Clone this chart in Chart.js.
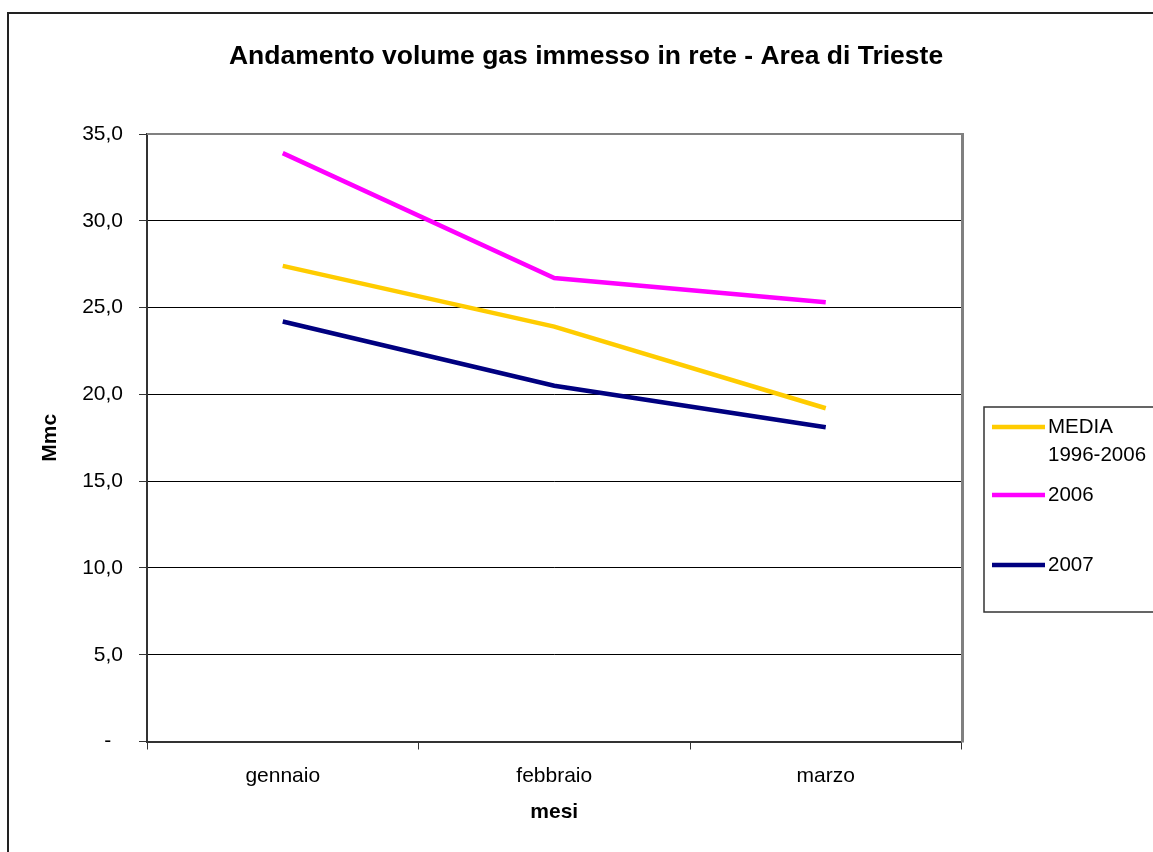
<!DOCTYPE html>
<html>
<head>
<meta charset="utf-8">
<script src="https://cdn.jsdelivr.net/npm/chart.js@4/dist/chart.umd.min.js"></script>
<style>
  html, body { margin: 0; padding: 0; background: #ffffff; }
  #wrap { width: 1153px; height: 852px; position: relative; }
</style>
</head>
<body>
<div id="wrap"><canvas id="c" width="1153" height="852"></canvas></div>
<script>
// ---- data ----
const categories = ['gennaio', 'febbraio', 'marzo'];
const media = [27.4, 23.9, 19.2];
const y2006 = [33.9, 26.7, 25.3];
const y2007 = [24.2, 20.5, 18.1];
const seriesLabels = [['MEDIA', '1996-2006'], ['2006'], ['2007']];
const seriesColors = ['#FFCC00', '#FF00FF', '#000080'];
const yTicks = [0, 5, 10, 15, 20, 25, 30, 35];

const FONT = "'Liberation Sans', Arial, sans-serif";

const frame = {
  id: 'frame',
  beforeDraw(chart) {
    const ctx = chart.ctx;
    ctx.save();
    ctx.fillStyle = '#ffffff';
    ctx.fillRect(0, 0, chart.width, chart.height);
    ctx.strokeStyle = '#222222';
    ctx.lineWidth = 2;
    ctx.strokeRect(8, 13, chart.width + 20, chart.height + 20);
    ctx.restore();
  },
  afterDraw(chart) {
    const ctx = chart.ctx;
    const a = chart.chartArea;
    ctx.save();
    ctx.strokeStyle = '#808080';
    ctx.lineWidth = 2;
    ctx.beginPath();
    ctx.moveTo(a.left, a.top);
    ctx.lineTo(a.right, a.top);
    ctx.stroke();
    ctx.lineWidth = 3;
    ctx.beginPath();
    ctx.moveTo(a.right + 1, a.top - 1);
    ctx.lineTo(a.right + 1, a.bottom + 1);
    ctx.stroke();
    ctx.restore();
  }
};

const customLegend = {
  id: 'customLegend',
  afterDraw(chart, args, opts) {
    const ctx = chart.ctx;
    ctx.save();
    ctx.strokeStyle = '#333333';
    ctx.lineWidth = 1.5;
    ctx.strokeRect(opts.x, opts.y, chart.width - opts.x + 20, opts.h);
    ctx.font = opts.fontSize + 'px ' + FONT;
    ctx.textBaseline = 'middle';
    ctx.textAlign = 'left';
    chart.data.datasets.forEach((ds, i) => {
      const yy = opts.rows[i];
      ctx.strokeStyle = ds.borderColor;
      ctx.lineWidth = ds.borderWidth;
      ctx.beginPath();
      ctx.moveTo(opts.x + 8, yy);
      ctx.lineTo(opts.x + 61, yy);
      ctx.stroke();
      ctx.fillStyle = '#000000';
      const lines = Array.isArray(ds.label) ? ds.label : [ds.label];
      lines.forEach((t, j) => ctx.fillText(t, opts.x + 64, yy + j * 28));
    });
    ctx.restore();
  }
};

const datasets = [media, y2006, y2007].map((vals, i) => ({
  label: seriesLabels[i],
  data: vals,
  borderColor: seriesColors[i],
  backgroundColor: seriesColors[i],
  borderWidth: 4.5,
  pointRadius: 0,
  tension: 0,
  fill: false,
  yAxisID: 'y'
}));

new Chart(document.getElementById('c'), {
  type: 'line',
  data: { labels: categories, datasets },
  plugins: [frame, customLegend],
  options: {
    responsive: false,
    animation: false,
    devicePixelRatio: 1,
    layout: { padding: { left: 19, right: 0, top: 0, bottom: 0 } },
    plugins: {
      legend: { display: false },
      tooltip: { enabled: false },
      title: {
        display: true,
        text: 'Andamento volume gas immesso in rete - Area di Trieste',
        color: '#000000',
        font: { family: FONT, size: 26.5, weight: 'bold' },
        padding: { top: 41.1, bottom: 61.1 }
      },
      customLegend: { x: 984, y: 407, h: 205, fontSize: 20.5, rows: [427, 495, 565] }
    },
    scales: {
      x: {
        type: 'category',
        offset: true,
        grid: { display: true, offset: true, drawOnChartArea: false, drawTicks: true, tickLength: 8, color: '#333333', lineWidth: 1 },
        border: { display: true, color: '#333333', width: 2 },
        ticks: { color: '#000000', font: { family: FONT, size: 21 }, padding: 14.5, maxRotation: 0 },
        title: { display: true, text: 'mesi', color: '#000000', font: { family: FONT, size: 21, weight: 'bold' }, padding: { top: 0, bottom: 27.4 } },
        afterFit(s) { s.height = 110.5; }
      },
      y: {
        min: 0,
        max: 35,
        afterBuildTicks(s) { s.ticks = yTicks.map(v => ({ value: v })); },
        grid: { color: '#000000', lineWidth: 1, drawTicks: true, tickLength: 8, tickColor: '#333333' },
        border: { display: true, color: '#333333', width: 2 },
        ticks: {
          color: '#000000',
          font: { family: FONT, size: 21 },
          padding: 16,
          callback: v => v === 0 ? '-  ' : v.toFixed(1).replace('.', ',')
        },
        title: { display: true, text: 'Mmc', color: '#000000', font: { family: FONT, size: 21, weight: 'bold' }, padding: { top: 18.4, bottom: 0 } },
        afterFit(s) { s.width = 128; }
      },
      legendSpace: {
        type: 'linear',
        position: 'right',
        display: true,
        grid: { display: false },
        border: { display: false },
        ticks: { display: false },
        afterFit(s) { s.width = 191.5; }
      }
    }
  }
});
</script>
</body>
</html>
